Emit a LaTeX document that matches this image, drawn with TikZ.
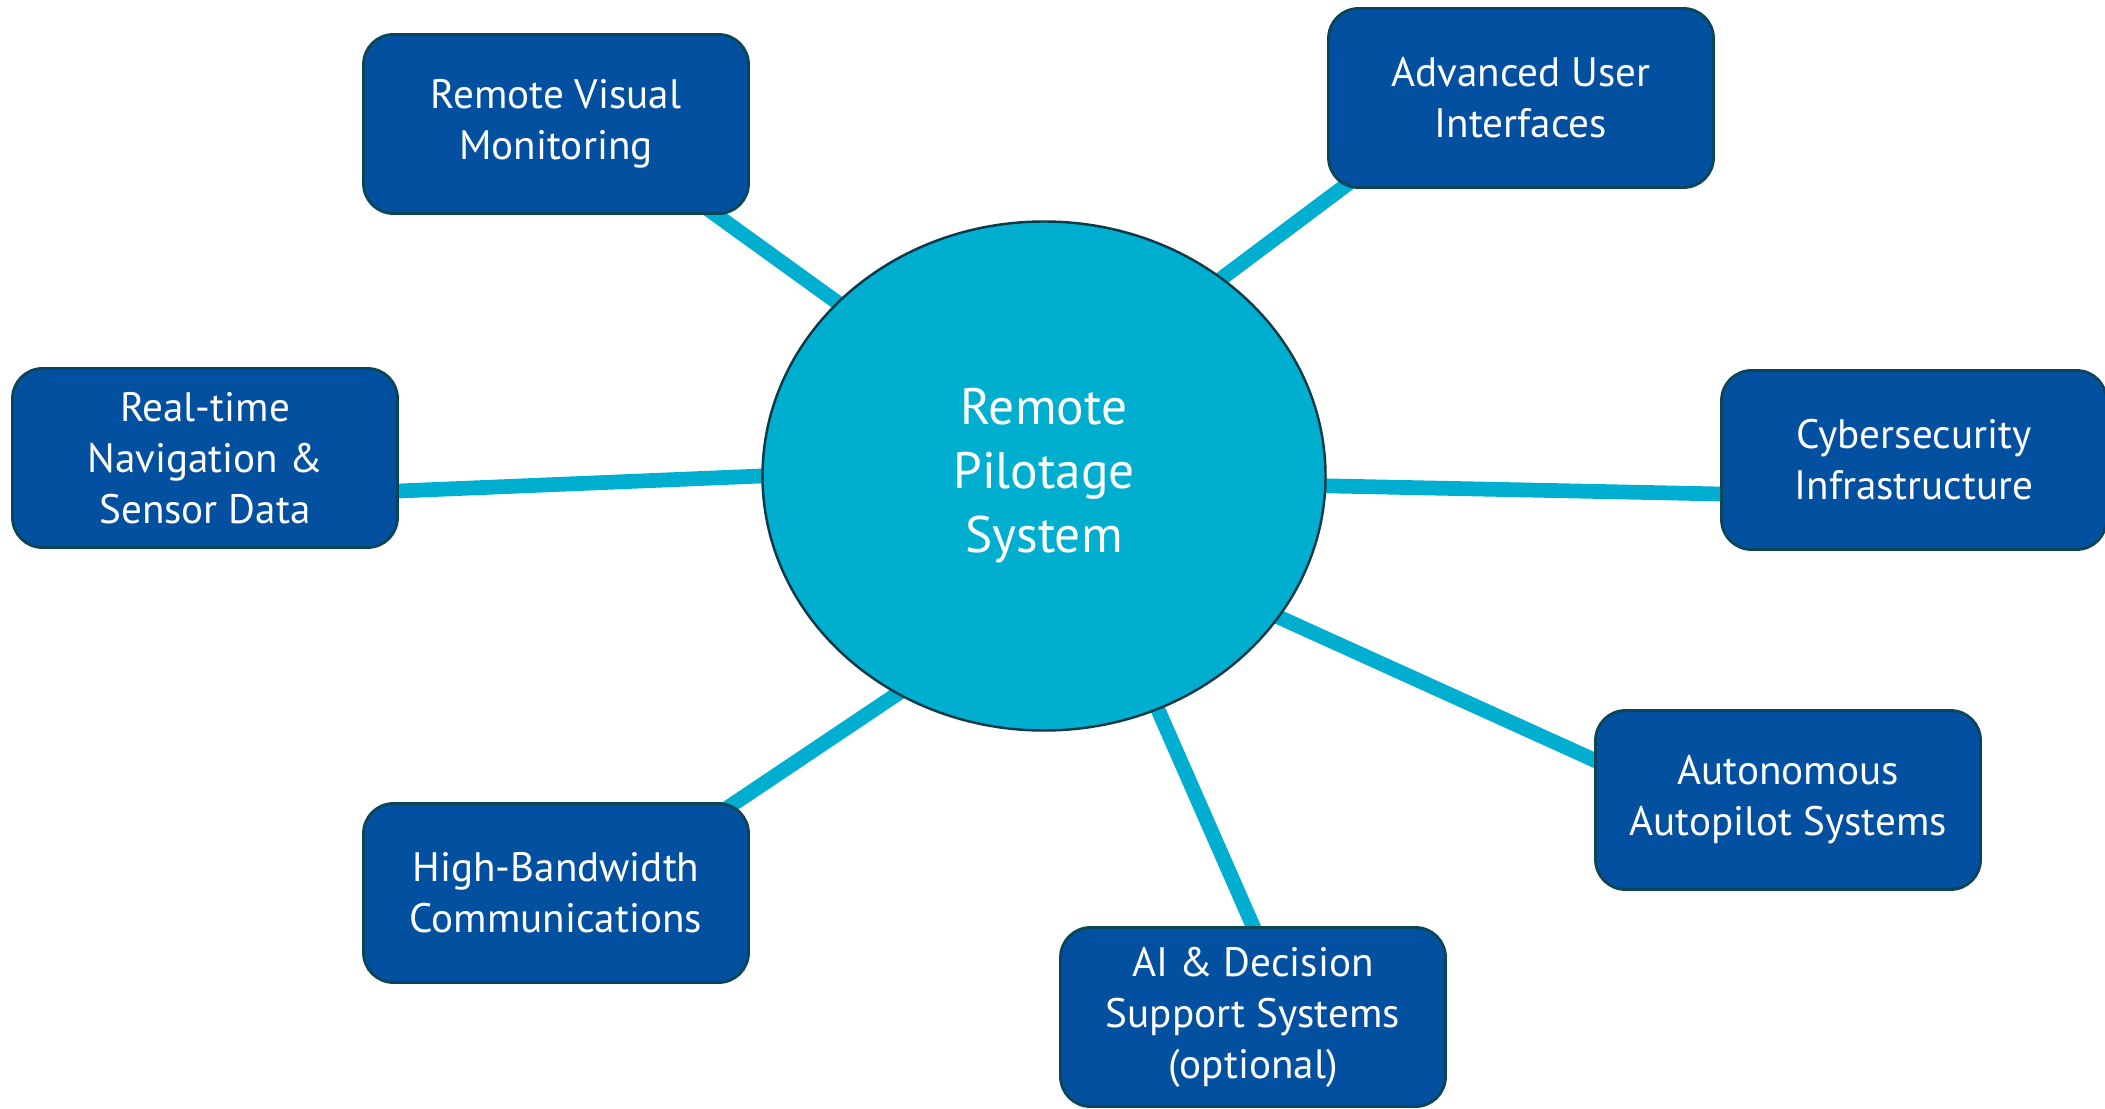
\documentclass[tikz,border=0pt]{standalone}
\usepackage{fontspec}
\setmainfont{PT Sans}
\usepackage{xcolor}
\usepackage{tikz}
\usetikzlibrary{shapes.geometric}
\usetikzlibrary{backgrounds}
\definecolor{boxblue}{HTML}{0450A0}
\definecolor{boxedge}{HTML}{0B4658}
\definecolor{hubcyan}{HTML}{00AFD0}
\definecolor{hubedge}{HTML}{0D3A48}
\tikzset{
	hub node/.style={ellipse,draw=hubedge,line width=0.7pt,fill=hubcyan,
		minimum width=5.63cm,minimum height=5.09cm,inner sep=0pt,
		text=white,align=center,font=\fontsize{14.6}{18.2}\selectfont},
	topic node/.style={rectangle,rounded corners=8.5pt,draw=boxedge,line width=0.8pt,
		fill=boxblue,minimum width=3.85cm,minimum height=1.79cm,
		text=white,align=center,font=\fontsize{11.7}{14.5}\selectfont},
	link/.style={draw=hubcyan,line width=4.2pt,shorten <=-6pt,shorten >=-6pt}
}

\begin{document}
\begin{tikzpicture}
	\useasboundingbox (0,0) rectangle (21.05,11.08);
	\node [hub node] (0) at (10.44,6.32) {Remote\\Pilotage\\System};
	\node [topic node] (1) at (5.56,9.84) {Remote Visual\\Monitoring};
	\node [topic node] (2) at (15.21,10.10) {Advanced User\\Interfaces};
	\node [topic node] (3) at (2.05,6.50) {Real-time\\Navigation \&\\Sensor Data};
	\node [topic node] (4) at (19.14,6.48) {Cybersecurity\\Infrastructure};
	\node [topic node] (5) at (17.88,3.08) {Autonomous\\Autopilot Systems};
	\node [topic node] (6) at (12.53,0.91) {AI \& Decision\\Support Systems\\(optional)};
	\node [topic node] (7) at (5.56,2.15) {High-Bandwidth\\Communications};
	\begin{pgfonlayer}{background}
		\draw [link] (0.140) -- ([xshift=1.6cm]1.south);
		\draw [link] (0.48) -- ([xshift=-1.8cm]2.south);
		\draw [link] (0.180) -- ([yshift=-0.33cm]3.east);
		\draw [link] (0.-2) -- ([yshift=-0.34cm]4.west);
		\draw [link] (0.-31) -- ([yshift=0.4cm]5.west);
		\draw [link] (0.-64) -- (6.north);
		\draw [link] (0.236) -- ([xshift=1.8cm]7.north);
	\end{pgfonlayer}
\end{tikzpicture}
\end{document}
